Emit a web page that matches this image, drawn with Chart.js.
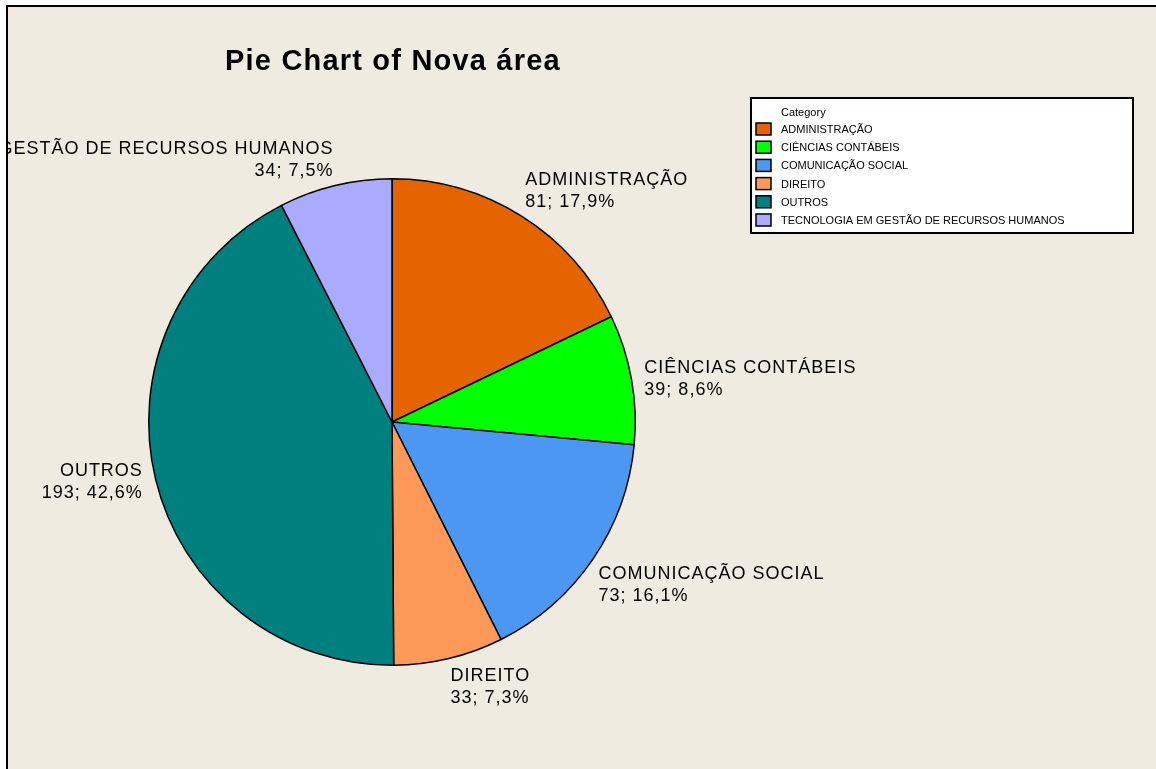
<!DOCTYPE html>
<html>
<head>
<meta charset="utf-8">
<script src="https://cdn.jsdelivr.net/npm/chart.js@4/dist/chart.umd.min.js"></script>
<style>
    body { margin: 0; background: #ffffff; }
    #frame {
        position: absolute; left: 6px; top: 5px; width: 1150px; height: 764px;
        border-left: 2px solid #000; border-top: 2px solid #000;
        background: #EFEBE1;
    }
    #wrap { position: absolute; left: 0; top: 0; width: 1156px; height: 769px; }
</style>
</head>
<body>
<div id="frame"></div>
<div id="wrap"><canvas id="pieChart" width="1156" height="769"></canvas></div>
<script>
const categories = [
    'ADMINISTRAÇÃO',
    'CIÊNCIAS CONTÁBEIS',
    'COMUNICAÇÃO SOCIAL',
    'DIREITO',
    'OUTROS',
    'TECNOLOGIA EM GESTÃO DE RECURSOS HUMANOS'
];
const counts = [81, 39, 73, 33, 193, 34];
const percents = ['17,9%', '8,6%', '16,1%', '7,3%', '42,6%', '7,5%'];
const colors = ['#E56400', '#00FF00', '#4B97F2', '#FF995A', '#007F7F', '#AAAAFF'];

const labelFont = '18px "Liberation Sans", Arial, sans-serif';

// slice labels outside the pie: anchored just past the rim at the slice middle
const sliceLabels = {
    id: 'sliceLabels',
    afterDatasetsDraw(chart) {
        const ctx = chart.ctx;
        const arcs = chart.getDatasetMeta(0).data;
        ctx.save();
        ctx.beginPath();
        ctx.rect(8, 0, chart.width, chart.height);
        ctx.clip();
        ctx.font = labelFont;
        ctx.fillStyle = '#000';
        ctx.textBaseline = 'middle';
        arcs.forEach((arc, i) => {
            const mid = (arc.startAngle + arc.endAngle) / 2;
            const r = arc.outerRadius + 7;
            const dx = Math.cos(mid), dy = Math.sin(mid);
            let px = arc.x + dx * r;
            const py = arc.y + dy * r;
            let y1, y2;
            if (Math.abs(dy) < 0.3) {
                y1 = py - 10; y2 = py + 12;
                px += dx > 0 ? 6 : -6;
            } else if (dy < 0) {
                y1 = py - 30; y2 = py - 8;
            } else {
                y1 = py + 11; y2 = py + 33;
            }
            ctx.textAlign = dx >= 0 ? 'left' : 'right';
            ctx.letterSpacing = '1px';
            ctx.fillText(categories[i], px, y1);
            ctx.fillText(counts[i] + '; ' + percents[i], px, y2);
        });
        ctx.restore();
    }
};

// title and boxed legend
const decorations = {
    id: 'decorations',
    afterDraw(chart) {
        const ctx = chart.ctx;
        ctx.save();
        ctx.fillStyle = '#000';
        ctx.font = 'bold 29px "Liberation Sans", Arial, sans-serif';
        ctx.letterSpacing = '1.2px';
        ctx.textAlign = 'left';
        ctx.textBaseline = 'middle';
        ctx.fillText('Pie Chart of Nova área', 225, 62);

        // legend box
        ctx.fillStyle = '#ffffff';
        ctx.fillRect(751, 98, 382, 135);
        ctx.lineWidth = 2;
        ctx.strokeStyle = '#000';
        ctx.strokeRect(751, 98, 382, 135);

        ctx.fillStyle = '#000';
        ctx.letterSpacing = '0px';
        ctx.font = '11px "Liberation Sans", Arial, sans-serif';
        ctx.fillText('Category', 781, 113);
        categories.forEach((c, i) => {
            const y = 129 + i * 18.2;
            ctx.fillStyle = colors[i];
            ctx.fillRect(756, y - 6, 15, 12);
            ctx.lineWidth = 1.5;
            ctx.strokeStyle = '#000';
            ctx.strokeRect(756, y - 6, 15, 12);
            ctx.fillStyle = '#000';
            ctx.fillText(c, 781, y + 1);
        });
        ctx.restore();
    }
};

new Chart(document.getElementById('pieChart').getContext('2d'), {
    type: 'pie',
    data: {
        labels: categories,
        datasets: [{
            data: counts,
            backgroundColor: colors,
            borderColor: '#000',
            borderWidth: 1.5
        }]
    },
    options: {
        responsive: false,
        animation: false,
        layout: { padding: { top: 178, bottom: 103, left: 148, right: 520 } },
        plugins: {
            legend: { display: false },
            tooltip: { enabled: false }
        }
    },
    plugins: [sliceLabels, decorations]
});
</script>
</body>
</html>
